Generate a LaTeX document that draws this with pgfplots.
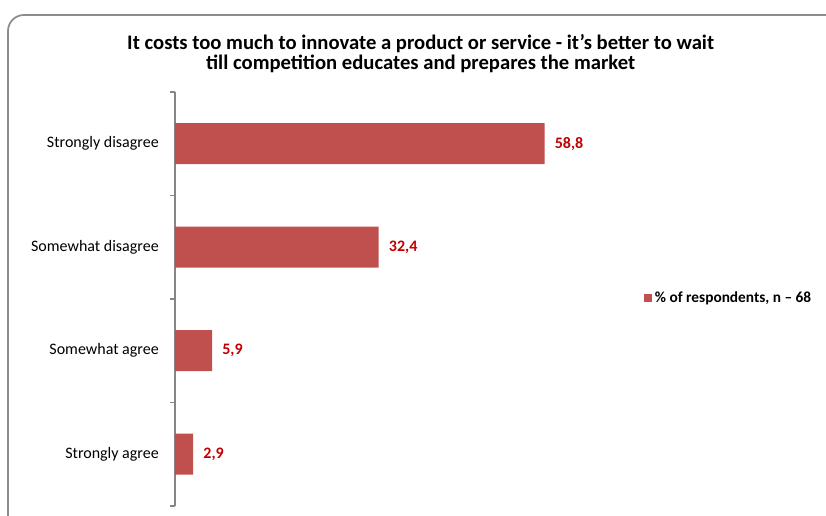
\documentclass[border=0pt]{standalone}
\usepackage{pgfplots}
\pgfplotsset{compat=1.18}
\usepackage{fontspec}
\setmainfont{Carlito}
\definecolor{barred}{HTML}{C0504D}
\definecolor{lblred}{HTML}{C00000}
\definecolor{framegray}{HTML}{8C8C8C}
\definecolor{axgray}{HTML}{868686}
\begin{document}
\begin{tikzpicture}
\path[use as bounding box] (0,0) rectangle (619.5pt,387pt);
\begin{scope}
\clip (0,0) rectangle (619.5pt,387pt);
\draw[framegray, line width=1.3pt, rounded corners=12pt] (6pt,375.75pt) rectangle (660pt,-30pt);
\end{scope}
\node[font=\bfseries\fontsize{15.5}{15}\selectfont, align=center] at (315.5pt,346.5pt)
  {It costs too much to innovate a product or service - it’s better to wait\\till competition educates and prepares the market};
\begin{axis}[
  at={(131.25pt,7.5pt)}, anchor=south west,
  scale only axis, width=330pt, height=310.5pt,
  xbar, bar width=30.75pt,
  xmin=0, xmax=70, ymin=0.5, ymax=4.5, y dir=reverse,
  axis x line=none, axis y line*=left,
  y axis line style={draw=axgray, line width=0.8pt},
  xtick=\empty,
  ytick={1,2,3,4},
  yticklabels={Strongly disagree,Somewhat disagree,Somewhat agree,Strongly agree},
  major tick length=0pt,
  yticklabel style={font=\fontsize{12}{14}\selectfont, inner sep=0pt, xshift=-12pt},
  extra y ticks={0.5,1.5,2.5,3.5,4.5},
  extra y tick labels={},
  extra y tick style={major tick length=3.75pt, tick align=outside, tick style={draw=axgray, line width=0.8pt}},
  point meta=x,
  nodes near coords={\pgfmathprintnumber[use comma,fixed,fixed zerofill,precision=1,assume math mode=true]{\pgfplotspointmeta}},
  nodes near coords style={font=\bfseries\fontsize{12}{14}\selectfont, text=lblred, anchor=west, inner sep=0pt, xshift=7.5pt},
  legend style={at={(1.066,0.502)}, anchor=west, draw=none, fill=none, inner sep=0pt,
    font=\bfseries\fontsize{11.5}{13}\selectfont,
    nodes={inner sep=2pt}},
  legend image code/.code={\fill[barred] (0pt,-3pt) rectangle (6pt,3pt);},
]
\addplot[fill=barred, draw=none] coordinates {(58.8,1) (32.4,2) (5.9,3) (2.9,4)};
\addlegendentry{\% of respondents, n – 68}
\end{axis}
\end{tikzpicture}
\end{document}
